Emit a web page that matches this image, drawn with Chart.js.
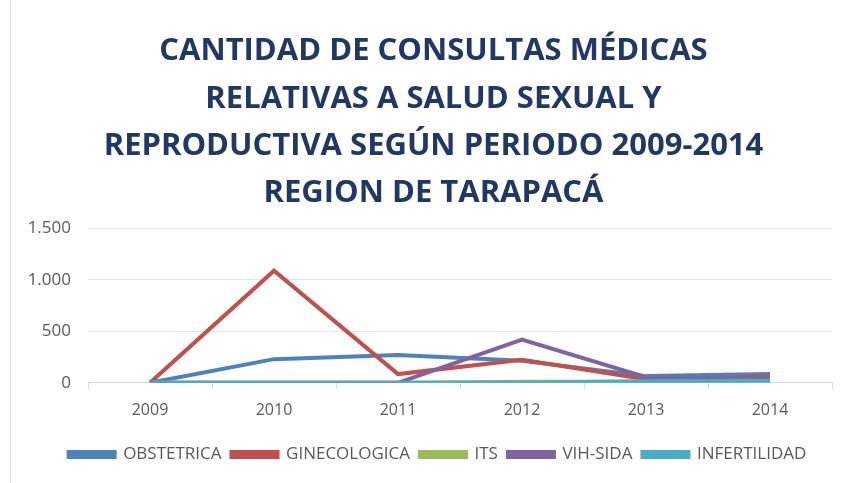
<!DOCTYPE html>
<html>
<head>
<meta charset="utf-8">
<script src="https://cdn.jsdelivr.net/npm/chart.js@4/dist/chart.umd.min.js"></script>
<style>
  html, body { margin: 0; padding: 0; background: #fff; }
  #wrap { position: absolute; left: 10px; top: 0; width: 835px; height: 483px; border-left: 1px solid #e3e3e3; box-sizing: border-box; }
</style>
</head>
<body>
<div id="wrap"><canvas id="consultasChart"></canvas></div>
<script>
const years = ['2009', '2010', '2011', '2012', '2013', '2014'];
const obstetrica = [0, 230, 270, 215, 65, 85];
const ginecologica = [0, 1090, 85, 225, 35, 60];
const its = [0, 0, 0, 10, 10, 10];
const vihSida = [0, 0, 0, 420, 55, 40];
const infertilidad = [0, 0, 0, 0, 15, 20];
const yTicks = [0, 500, 1000, 1500];

const titleLines = [
    'CANTIDAD DE CONSULTAS MÉDICAS',
    'RELATIVAS A SALUD SEXUAL Y',
    'REPRODUCTIVA SEGÚN PERIODO 2009-2014',
    'REGION DE TARAPACÁ'
];

// excel draws the last series on top, so lower order for later ones
function serie(label, data, color, idx) {
    return {
        label: label,
        data: data,
        borderColor: color,
        backgroundColor: color,
        borderWidth: 4,
        pointRadius: 0,
        tension: 0,
        order: 10 - idx
    };
}

// title and legend sit a bit right of the plot centre in the original
const shiftBlocks = {
    id: 'shiftBlocks',
    afterLayout(chart) {
        if (chart.titleBlock) {
            chart.titleBlock.left += 12;
            chart.titleBlock.right += 12;
        }
        if (chart.legend) {
            chart.legend.left += 16;
            chart.legend.right += 16;
        }
    }
};

const ctx = document.getElementById('consultasChart').getContext('2d');

const consultasChart = new Chart(ctx, {
    type: 'line',
    plugins: [shiftBlocks],
    data: {
        labels: years,
        datasets: [
            serie('OBSTETRICA', obstetrica, '#4f81bd', 0),
            serie('GINECOLOGICA', ginecologica, '#c0504d', 1),
            serie('ITS', its, '#9bbb59', 2),
            serie('VIH-SIDA', vihSida, '#8064a2', 3),
            serie('INFERTILIDAD', infertilidad, '#4bacc6', 4)
        ]
    },
    options: {
        responsive: true,
        maintainAspectRatio: false,
        animation: false,
        layout: {
            padding: { top: 28, left: 0, right: 13, bottom: 10 }
        },
        plugins: {
            title: {
                display: true,
                text: titleLines,
                color: '#1f3864',
                font: { family: 'Open Sans', size: 31, weight: 'bold', lineHeight: 1.52 },
                padding: { top: 0, bottom: 12 }
            },
            legend: {
                position: 'bottom',
                labels: {
                    boxWidth: 46,
                    boxHeight: 5,
                    color: '#595959',
                    font: { family: 'Open Sans', size: 17 },
                    padding: 10,
                    sort: (a, b) => a.datasetIndex - b.datasetIndex
                }
            },
            tooltip: { enabled: false }
        },
        scales: {
            x: {
                offset: true,
                afterFit: function(axis) {
                    axis.height += 4;
                },
                grid: {
                    offset: true,
                    drawOnChartArea: false,
                    tickLength: 6,
                    color: '#d9d9d9'
                },
                border: { color: '#d9d9d9' },
                ticks: {
                    color: '#595959',
                    font: { family: 'Open Sans', size: 16 },
                    padding: 12
                }
            },
            y: {
                min: 0,
                max: 1500,
                afterBuildTicks: function(axis) {
                    axis.ticks = yTicks.map(v => ({ value: v }));
                },
                afterFit: function(axis) {
                    axis.width = 77;
                },
                grid: { color: '#e6e6e6', drawTicks: false },
                border: { display: false },
                ticks: {
                    color: '#595959',
                    font: { family: 'Open Sans', size: 17 },
                    padding: 17,
                    callback: function(value) {
                        return value.toLocaleString('es-CL');
                    }
                }
            }
        }
    }
});
</script>
</body>
</html>
